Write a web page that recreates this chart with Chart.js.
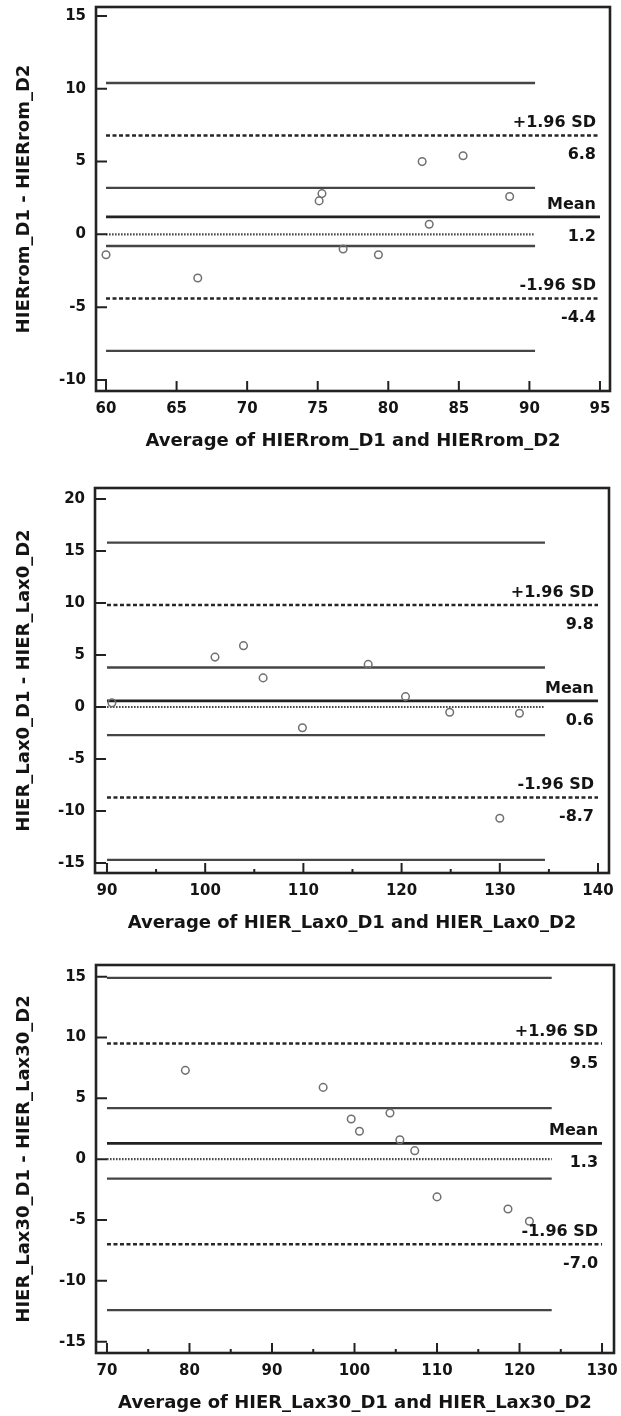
<!DOCTYPE html>
<html>
<head>
<meta charset="utf-8">
<script src="https://cdn.jsdelivr.net/npm/chart.js@4.4.1/dist/chart.umd.min.js"></script>
<style>
html, body { margin: 0; padding: 0; background: #fff; overflow: hidden; }
#page { position: relative; width: 621px; height: 1416px; overflow: hidden; }
.panel { position: absolute; left: 0; width: 621px; height: 480px; }
</style>
</head>
<body>
<div id="page">
  <div class="panel" style="top:0px"><canvas id="romChart" width="621" height="480"></canvas></div>
  <div class="panel" style="top:470px"><canvas id="lax0Chart" width="621" height="480"></canvas></div>
  <div class="panel" style="top:940px"><canvas id="lax30Chart" width="621" height="480"></canvas></div>
</div>
<script>
// --- HIERrom ---
const romAvg  = [60.0, 66.5, 75.1, 75.3, 76.8, 79.3, 82.4, 82.9, 85.3, 88.6];
const romDiff = [-1.4, -3.0, 2.3, 2.8, -1.0, -1.4, 5.0, 0.7, 5.4, 2.6];
const romLimits = [6.8, 1.2, -4.4];          // +1.96 SD, mean, -1.96 SD
const romCiLines = [10.4, 3.2, -0.8, -8.0];
const romCiEnd = 90.4;
const romXTicks = [60, 65, 70, 75, 80, 85, 90, 95];
const romXMinor = [];
const romYTicks = [-10, -5, 0, 5, 10, 15];
const romXRange = [59.29, 95.71];
const romYRange = [-10.76, 15.62];

// --- HIER_Lax0 ---
const lax0Avg  = [90.5, 101.0, 103.9, 105.9, 109.9, 116.6, 120.4, 124.9, 130.0, 132.0];
const lax0Diff = [0.4, 4.8, 5.9, 2.8, -2.0, 4.1, 1.0, -0.5, -10.7, -0.6];
const lax0Limits = [9.8, 0.6, -8.7];
const lax0CiLines = [15.8, 3.8, -2.7, -14.7];
const lax0CiEnd = 134.6;
const lax0XTicks = [90, 100, 110, 120, 130, 140];
const lax0XMinor = [95, 105, 115, 125, 135];
const lax0YTicks = [-15, -10, -5, 0, 5, 10, 15, 20];
const lax0XRange = [88.78, 141.12];
const lax0YRange = [-15.96, 21.06];

// --- HIER_Lax30 ---
const lax30Avg  = [79.5, 96.2, 99.6, 100.6, 104.3, 105.5, 107.3, 110.0, 118.6, 121.2];
const lax30Diff = [7.3, 5.9, 3.3, 2.3, 3.8, 1.6, 0.7, -3.1, -4.1, -5.1];
const lax30Limits = [9.5, 1.3, -7.0];
const lax30CiLines = [14.9, 4.2, -1.6, -12.4];
const lax30CiEnd = 123.9;
const lax30XTicks = [70, 80, 90, 100, 110, 120, 130];
const lax30XMinor = [75, 85, 95, 105, 115, 125];
const lax30YTicks = [-15, -10, -5, 0, 5, 10, 15];
const lax30XRange = [68.67, 131.45];
const lax30YRange = [-15.93, 15.96];

const limitNames = ['+1.96 SD', 'Mean', '-1.96 SD'];

const FONT = '"DejaVu Sans", "Liberation Sans", Arial, sans-serif';
const INK = '#141414';
const CANVAS_H = 480;

// cadre + graduations tournées vers l'intérieur
const frameTicks = {
  id: 'frameTicks',
  afterDraw(chart, args, opts) {
    const { ctx, chartArea: a, scales: { x, y } } = chart;
    ctx.save();
    ctx.strokeStyle = '#222';
    ctx.lineWidth = 2;
    ctx.beginPath();
    opts.yTicks.forEach(v => {
      const py = y.getPixelForValue(v);
      ctx.moveTo(a.left, py);
      ctx.lineTo(a.left + 11, py);
    });
    opts.xTicks.forEach(v => {
      const px = x.getPixelForValue(v);
      ctx.moveTo(px, a.bottom);
      ctx.lineTo(px, a.bottom - 10);
    });
    opts.xMinor.forEach(v => {
      const px = x.getPixelForValue(v);
      ctx.moveTo(px, a.bottom);
      ctx.lineTo(px, a.bottom - 4);
    });
    ctx.stroke();
    ctx.lineWidth = 2.6;
    ctx.strokeRect(a.left, a.top, a.right - a.left, a.bottom - a.top);
    ctx.restore();
  }
};

// étiquettes des limites d'agrément
const limitLabels = {
  id: 'limitLabels',
  afterDatasetsDraw(chart, args, opts) {
    const { ctx, scales: { x, y } } = chart;
    const px = x.getPixelForValue(opts.xEnd) - 4;
    ctx.save();
    ctx.font = 'bold 16px ' + FONT;
    ctx.fillStyle = INK;
    ctx.textAlign = 'right';
    ctx.textBaseline = 'alphabetic';
    opts.limits.forEach((v, i) => {
      const py = y.getPixelForValue(v);
      ctx.fillText(limitNames[i], px, py - 8);
      ctx.fillText(v.toFixed(1), px, py + 24);
    });
    ctx.restore();
  }
};

function hLine(yv, x0, x1, color, width, dash) {
  return {
    data: [{ x: x0, y: yv }, { x: x1, y: yv }],
    showLine: true,
    pointRadius: 0,
    borderColor: color,
    borderWidth: width,
    borderDash: dash || [],
    fill: false
  };
}

function drawPanel(canvasId, p) {
  const xStart = p.xTicks[0];
  const xEnd = p.xTicks[p.xTicks.length - 1];

  const datasets = [{
    data: p.avg.map((v, i) => ({ x: v, y: p.diff[i] })),
    pointRadius: 3.8,
    pointBorderWidth: 1.5,
    pointBorderColor: '#707070',
    pointBackgroundColor: 'rgba(0,0,0,0)',
    showLine: false
  }];
  datasets.push(hLine(p.limits[1], xStart, xEnd, '#222', 2.7));
  datasets.push(hLine(p.limits[0], xStart, xEnd, '#262626', 2.5, [4, 2.5]));
  datasets.push(hLine(p.limits[2], xStart, xEnd, '#262626', 2.5, [4, 2.5]));
  p.ciLines.forEach(v => datasets.push(hLine(v, xStart, p.ciEnd, '#454545', 2.3)));
  datasets.push(hLine(0, xStart, p.ciEnd, '#4a4a4a', 2.2, [1.6, 1.4]));

  const titleLine = 18 * 1.2;

  new Chart(document.getElementById(canvasId), {
    type: 'scatter',
    data: { datasets: datasets },
    options: {
      responsive: false,
      animation: false,
      events: [],
      layout: { padding: { top: p.areaTop, right: 621 - p.areaRight, left: 0, bottom: 0 } },
      plugins: {
        legend: { display: false },
        tooltip: { enabled: false },
        frameTicks: { xTicks: p.xTicks, xMinor: p.xMinor, yTicks: p.yTicks },
        limitLabels: { limits: p.limits, xEnd: xEnd }
      },
      scales: {
        x: {
          type: 'linear',
          min: p.xRange[0],
          max: p.xRange[1],
          afterBuildTicks: s => { s.ticks = p.xTicks.map(v => ({ value: v })); },
          afterFit: s => {
            s.height = CANVAS_H - p.areaBottom;
            s.paddingLeft = 0;
            s.paddingRight = 0;
          },
          grid: { display: false, drawTicks: false },
          border: { display: false },
          ticks: {
            autoSkip: false,
            maxRotation: 0,
            padding: 9,
            color: INK,
            font: { family: FONT, size: 15, weight: 'bold' },
            callback: v => String(v)
          },
          title: {
            display: true,
            text: p.xTitle,
            color: INK,
            font: { family: FONT, size: 18, weight: 'bold' },
            padding: { top: 0, bottom: CANVAS_H - p.areaBottom - 50 - titleLine / 2 }
          }
        },
        y: {
          type: 'linear',
          min: p.yRange[0],
          max: p.yRange[1],
          afterBuildTicks: s => { s.ticks = p.yTicks.map(v => ({ value: v })); },
          afterFit: s => {
            s.width = p.areaLeft;
            s.paddingTop = 0;
            s.paddingBottom = 0;
          },
          grid: { display: false, drawTicks: false },
          border: { display: false },
          ticks: {
            padding: 10,
            color: INK,
            font: { family: FONT, size: 15, weight: 'bold' },
            callback: v => String(v)
          },
          title: {
            display: true,
            text: p.yTitle,
            color: INK,
            font: { family: FONT, size: 18, weight: 'bold' },
            padding: { top: 24 - titleLine / 2, bottom: 0 }
          }
        }
      }
    },
    plugins: [limitLabels, frameTicks]
  });
}

drawPanel('romChart', {
  avg: romAvg, diff: romDiff, limits: romLimits, ciLines: romCiLines, ciEnd: romCiEnd,
  xTicks: romXTicks, xMinor: romXMinor, yTicks: romYTicks,
  xRange: romXRange, yRange: romYRange,
  xTitle: 'Average of HIERrom_D1 and HIERrom_D2',
  yTitle: 'HIERrom_D1 - HIERrom_D2',
  areaTop: 7, areaBottom: 391, areaLeft: 96, areaRight: 610
});

drawPanel('lax0Chart', {
  avg: lax0Avg, diff: lax0Diff, limits: lax0Limits, ciLines: lax0CiLines, ciEnd: lax0CiEnd,
  xTicks: lax0XTicks, xMinor: lax0XMinor, yTicks: lax0YTicks,
  xRange: lax0XRange, yRange: lax0YRange,
  xTitle: 'Average of HIER_Lax0_D1 and HIER_Lax0_D2',
  yTitle: 'HIER_Lax0_D1 - HIER_Lax0_D2',
  areaTop: 18, areaBottom: 403, areaLeft: 95, areaRight: 609
});

drawPanel('lax30Chart', {
  avg: lax30Avg, diff: lax30Diff, limits: lax30Limits, ciLines: lax30CiLines, ciEnd: lax30CiEnd,
  xTicks: lax30XTicks, xMinor: lax30XMinor, yTicks: lax30YTicks,
  xRange: lax30XRange, yRange: lax30YRange,
  xTitle: 'Average of HIER_Lax30_D1 and HIER_Lax30_D2',
  yTitle: 'HIER_Lax30_D1 - HIER_Lax30_D2',
  areaTop: 25, areaBottom: 413, areaLeft: 96, areaRight: 614
});
</script>
</body>
</html>
